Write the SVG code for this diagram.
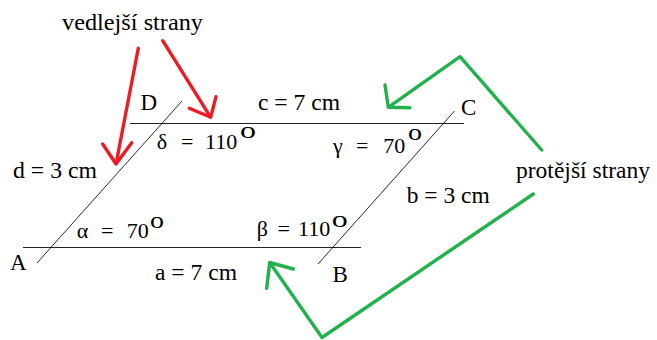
<svg xmlns="http://www.w3.org/2000/svg" width="657" height="340" viewBox="0 0 657 340">
<style>
text{font-family:"Liberation Serif","Times New Roman",serif;fill:#000;}
.t{font-size:23px;}
.g{font-size:22px;}
.sup{font-size:23px;}
.edge{stroke:#222;stroke-width:1.2;fill:none;}
.diag{stroke:#111;stroke-width:0.9;fill:none;}
.red{stroke:#ed1c24;stroke-width:3.4;fill:none;stroke-linecap:round;stroke-linejoin:round;}
.green{stroke:#22b14c;stroke-width:3.4;fill:none;stroke-linecap:round;stroke-linejoin:round;}
</style>
<rect width="657" height="340" fill="#fff"/>
<g id="parallelogram">
<line class="edge" x1="130" y1="123.5" x2="464" y2="123.5"/>
<line class="edge" x1="23" y1="247.5" x2="361" y2="247.5"/>
<line class="diag" x1="182" y1="101" x2="37" y2="263"/>
<line class="diag" x1="454.5" y1="111" x2="318" y2="264"/>
</g>
<g id="vertices">
<text class="t" x="10" y="270">A</text>
<text class="t" x="332.5" y="281.7">B</text>
<text class="t" x="461" y="115">C</text>
<text class="t" x="140.5" y="110">D</text>
</g>
<g id="sides">
<text class="t" x="155" y="280" textLength="82" lengthAdjust="spacingAndGlyphs">a = 7 cm</text>
<text class="t" x="406.7" y="203.3" textLength="83" lengthAdjust="spacingAndGlyphs">b = 3 cm</text>
<text class="t" x="258" y="110" textLength="82" lengthAdjust="spacingAndGlyphs">c = 7 cm</text>
<text class="t" x="13" y="178.3" textLength="84" lengthAdjust="spacingAndGlyphs">d = 3 cm</text>
</g>
<g id="angles">
<g id="alpha">
<text class="g" y="238.3"><tspan x="76.7">α</tspan><tspan x="101">=</tspan><tspan x="126.7">70</tspan></text>
<text class="sup" x="150" y="228.3" textLength="14" lengthAdjust="spacingAndGlyphs">o</text>
</g>
<g id="beta">
<text class="g" y="235.7"><tspan x="256.7">β</tspan><tspan x="277.6">=</tspan><tspan x="298">110</tspan></text>
<text class="sup" x="331.7" y="226.7" textLength="16" lengthAdjust="spacingAndGlyphs">o</text>
</g>
<g id="gamma">
<text class="g" y="153.3"><tspan x="333">γ</tspan><tspan x="356">=</tspan><tspan x="383.3">70</tspan></text>
<text class="sup" x="408" y="140" textLength="14" lengthAdjust="spacingAndGlyphs">o</text>
</g>
<g id="delta">
<text class="g" y="149"><tspan x="156.7">δ</tspan><tspan x="181">=</tspan><tspan x="205">110</tspan></text>
<text class="sup" x="240" y="138.3" textLength="16" lengthAdjust="spacingAndGlyphs">o</text>
</g>
</g>
<g id="label-vedlejsi">
<text x="62" y="29.5" style="font-size:24px" textLength="141" lengthAdjust="spacingAndGlyphs">vedlejší strany</text>
</g>
<g id="label-protejsi">
<text x="516" y="178" style="font-size:24px" textLength="134" lengthAdjust="spacingAndGlyphs">protější strany</text>
</g>
<g id="connectors">
<path class="red" d="M138.3,48.3 L116,164 M102.7,144 L116,164 L131.7,142.7"/>
<path class="red" d="M162.7,40.7 L210.7,117.3 M189.3,108.3 L210.7,117.3 L216,96.7"/>
<path class="green" d="M541.7,150 L460,56.7 L388.3,107.3 M385,85 L388.3,107.3 L410,107.7"/>
<path class="green" d="M533.3,194 L322,337.5 L269.7,262.5 M266.7,288.3 L269.7,262.5 L293.3,269"/>
</g>
</svg>
